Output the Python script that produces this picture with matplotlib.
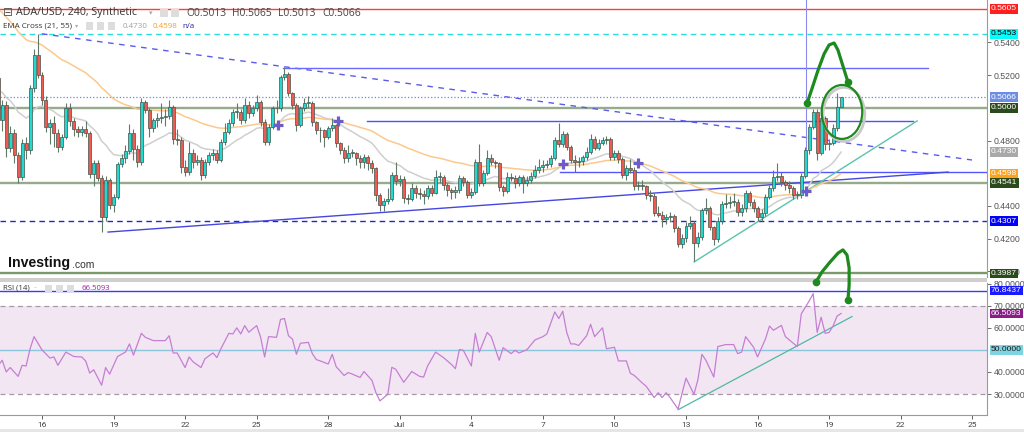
import numpy as np
import pandas as pd
import matplotlib
matplotlib.use("Agg")
import matplotlib.pyplot as plt
from matplotlib.patches import Ellipse, Rectangle
import matplotlib.transforms as mtransforms
from matplotlib import font_manager

# ---------------- data ----------------
first_open = 0.5183
closes = [
    .4926, .5017, .4754, .4846, .4711, .4577, .4785, .4742, .5121, .5323,
    .5201, .5048, .4883, .4907, .4846, .4760, .4822, .4999, .4919, .4871,
    .4852, .4871, .4846, .4595, .4662, .4571, .4332, .4558, .4405, .4454,
    .4656, .4693, .4736, .4846, .4748, .4669, .5036, .4987, .4877, .4926,
    .4938, .4944, .4950, .5005, .4809, .4803, .4638, .4607, .4724, .4669,
    .4681, .4589, .4669, .4711, .4724, .4681, .4791, .4852, .4907, .4975,
    .4975, .4926, .5017, .4968, .4999, .5036, .4913, .4791, .4883, .4999,
    .4999, .5189, .5207, .5091, .5017, .4895, .4999, .5030, .5030, .4913,
    .4864, .4864, .4822, .4877, .4895, .4785, .4742, .4693, .4724, .4724,
    .4693, .4669, .4699, .4662, .4632, .4467, .4405, .4430, .4442, .4589,
    .4552, .4565, .4448, .4442, .4509, .4479, .4473, .4461, .4509, .4479,
    .4577, .4577, .4528, .4497, .4485, .4497, .4571, .4546, .4467, .4485,
    .4669, .4540, .4601, .4693, .4669, .4662, .4516, .4491, .4577, .4571,
    .4540, .4577, .4540, .4558, .4583, .4620, .4638, .4650, .4656, .4693,
    .4803, .4779, .4840, .4760, .4681, .4669, .4675, .4699, .4730, .4809,
    .4754, .4785, .4803, .4809, .4699, .4724, .4687, .4589, .4632, .4620,
    .4522, .4528, .4522, .4467, .4461, .4356, .4344, .4320, .4332, .4338,
    .4265, .4167, .4203, .4277, .4295, .4173, .4210, .4375, .4387, .4271,
    .4197, .4307, .4412, .4418, .4424, .4424, .4363, .4387, .4479, .4424,
    .4387, .4332, .4356, .4454, .4509, .4577, .4583, .4546, .4528, .4509,
    .4467, .4467, .4583, .4742, .4883, .4975, .4724, .4938, .4779, .4785,
    .4877, .5005, .5066]
highs = [
    .524, .505, .504, .489, .487, .473, .481, .482, .514, .536,
    .545, .522, .507, .493, .495, .487, .484, .503, .503, .494,
    .489, .489, .492, .486, .468, .468, .459, .458, .457, .447,
    .467, .472, .477, .490, .487, .477, .506, .505, .500, .494,
    .497, .503, .499, .505, .502, .487, .482, .468, .479, .475,
    .471, .470, .469, .473, .475, .474, .481, .491, .493, .499,
    .503, .499, .506, .504, .502, .508, .505, .493, .490, .501,
    .505, .520, .525, .522, .510, .503, .501, .506, .507, .504,
    .492, .488, .487, .489, .494, .490, .479, .476, .477, .475,
    .473, .471, .472, .471, .468, .464, .448, .445, .451, .461,
    .467, .459, .458, .447, .454, .453, .451, .450, .453, .453,
    .462, .461, .459, .454, .451, .452, .459, .458, .456, .451,
    .469, .478, .462, .474, .472, .468, .467, .453, .461, .460,
    .459, .459, .459, .458, .461, .465, .469, .468, .468, .471,
    .482, .491, .486, .485, .477, .471, .470, .471, .476, .484,
    .483, .481, .482, .483, .482, .474, .474, .470, .465, .469,
    .464, .455, .456, .453, .450, .448, .440, .437, .435, .436,
    .435, .428, .423, .430, .434, .431, .424, .439, .445, .440,
    .428, .433, .443, .447, .446, .448, .444, .441, .450, .449,
    .444, .440, .438, .447, .453, .462, .466, .461, .456, .455,
    .452, .449, .460, .476, .490, .499, .499, .496, .495, .481,
    .490, .509, .5068]
lows = [
    .488, .486, .470, .473, .466, .454, .456, .469, .472, .510,
    .518, .502, .485, .478, .476, .473, .474, .481, .489, .483,
    .482, .483, .482, .457, .452, .455, .424, .431, .438, .436,
    .444, .464, .466, .472, .468, .464, .465, .497, .482, .485,
    .488, .491, .489, .493, .478, .477, .460, .458, .459, .463,
    .465, .456, .457, .465, .468, .466, .467, .477, .484, .489,
    .494, .490, .491, .494, .495, .498, .489, .477, .477, .487,
    .497, .498, .517, .507, .499, .486, .488, .498, .500, .489,
    .484, .479, .476, .481, .486, .476, .472, .466, .467, .470,
    .465, .463, .463, .462, .460, .443, .437, .437, .441, .443,
    .453, .452, .442, .441, .443, .445, .444, .441, .444, .446,
    .447, .454, .450, .446, .444, .445, .448, .452, .445, .445,
    .447, .452, .452, .459, .465, .463, .449, .446, .448, .455,
    .451, .452, .448, .452, .454, .457, .460, .461, .463, .464,
    .468, .476, .476, .474, .466, .461, .464, .465, .468, .472,
    .474, .474, .477, .478, .468, .468, .466, .457, .456, .460,
    .450, .450, .450, .444, .443, .434, .433, .427, .429, .430,
    .424, .415, .414, .418, .426, .406, .415, .419, .435, .425,
    .416, .418, .429, .439, .439, .440, .434, .434, .436, .440,
    .436, .431, .431, .434, .444, .449, .455, .452, .450, .448,
    .444, .444, .445, .457, .472, .487, .468, .471, .474, .474,
    .477, .486, .5005]
ema21_seed = 0.512
ema55_seed = 0.563
last_candle_day = 33.5          # days after Jun 16 (4h candles)
candles_per_day = 6

rsi_points = [
    (0, 43.0), (1, 45.3), (2, 40.0), (3, 42.0), (5, 38.0), (6, 43.0), (7, 42.7), (8, 50.5),
    (9, 56.0), (11, 50.0), (13, 46.3), (14, 46.8), (15, 43.0), (17, 49.0), (19, 47.0),
    (21, 46.8), (22, 44.9), (23, 39.5), (24, 41.0), (26, 34.0), (27, 42.0), (28, 39.0),
    (30, 47.0), (32, 49.0), (33, 52.7), (34, 47.6), (36, 57.5), (37, 55.7), (39, 54.2),
    (42, 54.2), (43, 56.4), (44, 48.6), (45, 48.6), (47, 42.0), (48, 46.8), (49, 44.6),
    (51, 42.0), (52, 46.0), (54, 48.6), (55, 46.5), (56, 50.5), (58, 57.5), (59, 57.2),
    (60, 60.0), (61, 57.2), (62, 61.0), (63, 58.0), (65, 61.0), (66, 55.7), (67, 46.8),
    (68, 56.0), (70, 55.7), (71, 63.8), (72, 64.2), (73, 56.4), (74, 54.9), (75, 48.0),
    (76, 53.0), (78, 53.4), (79, 48.3), (80, 45.6), (81, 45.0), (83, 43.6), (84, 48.0),
    (85, 42.4), (87, 38.4), (88, 39.7), (89, 39.1), (91, 37.5), (92, 40.2), (94, 36.2),
    (95, 30.6), (96, 26.9), (98, 29.9), (99, 42.1), (100, 41.2), (102, 35.3), (104, 40.2),
    (106, 38.0), (107, 37.7), (108, 42.7), (110, 49.0), (112, 46.5), (114, 43.4),
    (115, 41.5), (116, 50.2), (117, 49.8), (119, 42.7), (120, 57.5), (121, 49.0),
    (123, 57.9), (124, 56.0), (126, 45.3), (127, 51.0), (129, 48.3), (130, 49.8),
    (131, 48.6), (133, 50.1), (135, 54.5), (137, 56.0), (138, 57.2), (140, 67.2),
    (141, 64.2), (142, 67.5), (143, 57.9), (144, 52.7), (145, 52.7), (146, 52.0),
    (148, 56.4), (149, 61.6), (150, 56.0), (152, 60.0), (153, 50.5), (155, 51.2),
    (156, 45.0), (158, 45.0), (159, 39.4), (160, 38.4), (162, 35.0), (163, 33.5),
    (165, 28.4), (166, 30.6), (167, 28.4), (168, 30.6), (169, 28.4), (171, 23.2),
    (172, 30.3), (173, 37.2), (175, 29.9), (176, 36.5), (177, 48.0), (178, 45.3),
    (180, 37.7), (181, 51.5), (183, 52.4), (185, 52.4), (186, 48.3), (187, 49.0),
    (188, 56.0), (190, 51.2), (191, 46.8), (193, 55.0), (194, 60.8), (195, 58.9),
    (197, 61.1), (198, 56.0), (199, 54.5), (201, 51.5), (202, 66.3), (204, 72.2),
    (205, 75.5), (206, 57.9), (207, 64.8), (208, 57.5), (209, 57.9), (210, 60.8),
    (211, 65.3), (212, 66.5)]

tick_days = [0, 3, 6, 9, 12, 15, 18, 21, 24, 27, 30, 33, 36, 39]
tick_labels = ['16', '19', '22', '25', '28', 'Jul', '4', '7', '10', '13', '16', '19', '22', '25']
# tick levels whose labels stay visible (0.5000, 0.4600 and 50 sit under value boxes)
price_ticks = [0.40, 0.42, 0.44, 0.48, 0.52, 0.54]
rsi_ticks = [30, 40, 60, 70, 80]

# horizontal levels: (price, color, style, lw)
h_levels = [
    (0.5605, '#ff3b3b', '-', 1.0),
    (0.5453, '#2bdede', (0, (4, 3)), 1.0),
    (0.5066, '#6f86e6', ':', 0.9),
    (0.5000, '#95ab8c', '-', 1.7),
    (0.4541, '#95ab8c', '-', 1.7),
    (0.4307, '#2424cc', (0, (4, 3)), 1.0),
    (0.3987, '#7a9a6a', '-', 1.7),
]
# trend / segment drawings: ((day0, p0), (day1, p1), color, style)
segments = [
    ((0.0, 0.5453), (38.99, 0.4681), '#5a5aee', (0, (4, 4))),
    ((10.1, 0.5244), (37.15, 0.5244), '#6a6aff', '-'),
    ((13.63, 0.4919), (36.52, 0.4919), '#4f4fff', '-'),
    ((21.72, 0.4607), (39.62, 0.4607), '#5555ff', '-'),
    ((2.77, 0.4240), (37.99, 0.4607), '#4646e0', '-'),
    ((27.34, 0.4057), (36.69, 0.4920), '#58c4aa', '-'),
]
cross_marks = [(9.90, 0.4895), (12.41, 0.4919), (21.85, 0.4656), (24.99, 0.4662), (32.03, 0.4491)]

# right-axis value labels: (value, bg, fg)
price_labels = [
    (0.5605, '#ff1f1f', 'white'), (0.5453, '#00ffff', 'black'),
    (0.5066, '#6a8de6', 'white'), (0.5000, '#2c4b1c', 'white'),
    (0.4730, '#a9a9a9', 'white'), (0.4598, '#ffa21a', 'white'),
    (0.4541, '#2c4b1c', 'white'), (0.4307, '#0000ff', 'white'),
    (0.3987, '#2c4b1c', 'white')]
rsi_labels = [(76.8437, '#1a1aff', 'white'), (66.5093, '#8b1a8b', 'white'),
              (50.0000, '#7fd4e4', '#1a1a1a')]

# ---------------- helpers ----------------
avail = {f.name for f in font_manager.fontManager.ttflist}
def pick(*names):
    for n in names:
        if n in avail:
            return n
    return 'DejaVu Sans'
NARROW = pick('Liberation Sans Narrow', 'Roboto', 'DejaVu Sans')
UI = pick('Open Sans', 'Noto Sans', 'DejaVu Sans')
ARIAL = pick('Liberation Sans', 'DejaVu Sans')

W, H = 1024, 432
def fy(py):
    return 1 - py / H

fig = plt.figure(figsize=(W / 100, H / 100), dpi=100)
fig.patch.set_facecolor('white')

ax = fig.add_axes([0, fy(277), 987 / W, 277 / H])
axr = fig.add_axes([0, fy(415), 987 / W, (415 - 283) / H], sharex=ax)

n = len(closes)
t = np.array([last_candle_day - (n - 1 - i) / candles_per_day for i in range(n)])
c = np.array(closes)
o = np.array([first_open] + closes[:-1])
hi = np.array(highs)
lo = np.array(lows)

xmin, xmax = -1.761, 39.62
ax.set_xlim(xmin, xmax)
ax.set_ylim(0.3965, 0.5660)

# levels and drawings
for p, col, ls, lw in h_levels:
    ax.axhline(p, color=col, ls=ls, lw=lw, zorder=1)
for (x0, y0), (x1, y1), col, ls in segments:
    ax.plot([x0, x1], [y0, y1], color=col, ls=ls, lw=1.0, zorder=1.5)
ax.plot([32.03, 32.03], [0.4700, 0.566], color='#8c8cf0', lw=0.8, zorder=1.5)

# EMAs
ema21 = pd.Series([ema21_seed] + closes).ewm(span=21, adjust=False).mean().iloc[1:].values
ema55 = pd.Series([ema55_seed] + closes).ewm(span=55, adjust=False).mean().iloc[1:].values
ax.plot(t, ema21, color='#cfcfcf', lw=1.1, zorder=2)
ax.plot(t, ema55, color='#fcc98c', lw=1.1, zorder=2)

# candles
up = c >= o
body_col = np.where(up, '#22d8cf', '#ef5b52')
ax.vlines(t, lo, hi, color='#62786a', lw=0.8, zorder=3)
ax.bar(t, np.maximum(np.abs(c - o), 0.0003), bottom=np.minimum(o, c), width=0.125,
       color=body_col, edgecolor='#3f5548', linewidth=0.5, zorder=4)

cx, cy = zip(*cross_marks)
ax.plot(cx, cy, ls='none', marker='+', ms=7, mew=2.3, color='#6b5cc8', zorder=5)

# green hand drawn annotations
gpath_x = [32.08, 32.29, 32.54, 32.79, 33.00, 33.21, 33.37, 33.58, 33.79]
gpath_y = [0.5030, 0.5121, 0.5232, 0.5330, 0.5385, 0.5397, 0.5354, 0.5256, 0.5158]
ax.plot(gpath_x, gpath_y, color='#1e8a1e', lw=2.3, zorder=6, solid_capstyle='round')
ax.plot([gpath_x[0], gpath_x[-1]], [gpath_y[0], gpath_y[-1]], 'o', color='#1e8a1e', ms=4.5, zorder=6)
ax.add_patch(Ellipse((33.62, 0.4960), 1.75, 0.033, angle=0, fill=False, ec='#c8c8c8', lw=2.0, zorder=5.5))
ax.add_patch(Ellipse((33.54, 0.4975), 1.7, 0.033, angle=0, fill=False, ec='#1e8a1e', lw=1.6, zorder=6))

# price axis styling
ax.yaxis.tick_right()
ax.set_yticks(price_ticks)
ax.set_yticklabels(['%.4f' % v for v in price_ticks])
ax.tick_params(axis='y', labelsize=6.3, colors='#555555', length=3, width=0.6, pad=2)
for lab in ax.get_yticklabels():
    lab.set_fontfamily(ARIAL)
ax.tick_params(axis='x', bottom=False, labelbottom=False)
for s in ['top', 'left', 'bottom']:
    ax.spines[s].set_visible(False)
ax.spines['right'].set_color('#9a9a9a')
ax.spines['right'].set_linewidth(0.8)

def right_label(axis, v, text, bg, fg):
    tr = mtransforms.blended_transform_factory(axis.transAxes, axis.transData)
    axis.text(1.004, v, text, transform=tr, ha='left', va='center', fontsize=6.1,
              color=fg, family=ARIAL,
              bbox=dict(boxstyle='square,pad=0.15', fc=bg, ec='none'),
              zorder=20, clip_on=False)

for v, bg, fg in price_labels:
    right_label(ax, v, '%.4f' % v, bg, fg)

# ---------------- RSI panel ----------------
axr.set_ylim(20.5, 80.3)
axr.axhspan(30, 70, color='#f3e6f3', zorder=0, lw=0)
axr.axhline(70, color='#a898a8', ls=(0, (4, 3)), lw=0.9, zorder=1)
axr.axhline(30, color='#a898a8', ls=(0, (4, 3)), lw=0.9, zorder=1)
axr.axhline(50, color='#8cc6dc', lw=1.0, zorder=1)
axr.axhline(76.8437, color='#3a3aff', lw=1.0, zorder=1)
ri, rv = zip(*rsi_points)
axr.plot(t[list(ri)], rv, color='#c47fd3', lw=0.9, zorder=3)
axr.plot([26.67, 33.96], [22.9, 65.1], color='#4fb8a8', lw=0.9, zorder=2)

gx2 = [32.45, 32.70, 33.04, 33.38, 33.58, 33.75, 33.84, 33.84, 33.79]
gy2 = [80.75, 85.3, 89.8, 93.9, 95.3, 93.0, 87.1, 79.4, 72.6]
axr.plot(gx2, gy2, color='#1e8a1e', lw=2.3, zorder=6, clip_on=False, solid_capstyle='round')
axr.plot([gx2[0], gx2[-1]], [gy2[0], gy2[-1]], 'o', color='#1e8a1e', ms=4.5, zorder=6, clip_on=False)

axr.yaxis.tick_right()
axr.set_yticks(rsi_ticks)
axr.set_yticklabels(['%.4f' % v for v in rsi_ticks])
axr.tick_params(axis='y', labelsize=6.3, colors='#555555', length=3, width=0.6, pad=2)
for lab in axr.get_yticklabels():
    lab.set_fontfamily(ARIAL)
axr.set_xticks(tick_days)
axr.set_xticklabels(tick_labels)
axr.tick_params(axis='x', labelsize=6.0, colors='#444444', length=3, width=0.6, pad=2)
for lab in axr.get_xticklabels():
    lab.set_fontfamily(NARROW)
for s in ['top', 'left']:
    axr.spines[s].set_visible(False)
for s in ['right', 'bottom']:
    axr.spines[s].set_color('#9a9a9a')
    axr.spines[s].set_linewidth(0.8)
for v, bg, fg in rsi_labels:
    right_label(axr, v, '%.4f' % v, bg, fg)

# panel separator and bottom band
fig.add_artist(Rectangle((0, fy(282)), 987 / W, 4 / H, transform=fig.transFigure,
                         color='#cfcfcf', lw=0, zorder=0))
fig.add_artist(Rectangle((0, 0), 1, 3 / H, transform=fig.transFigure, color='#e6e6e6', lw=0))

# ---------------- header texts ----------------
def ftext(px, py, s, **kw):
    fig.text(px / W, fy(py), s, va='center', ha='left', **kw)

def icon(px, py, size=7):
    fig.add_artist(Rectangle((px / W, fy(py + size / 2)), size / W, size / H,
                             transform=fig.transFigure, color='#dddddd', lw=0, zorder=30))

ftext(3, 13, '\u229f', fontsize=8.5, color='#555555', family='DejaVu Sans', zorder=31)
ftext(16, 13, 'ADA/USD, 240, Synthetic', fontsize=7.7, color='#333333', family=UI, zorder=31)
ftext(149, 13, '\u25be', fontsize=5, color='#aaaaaa', family='DejaVu Sans', zorder=31)
icon(160, 13, 8)
icon(171, 13, 8)
for px, s in [(186, 'O0.5013'), (232, 'H0.5065'), (278, 'L0.5013'), (322, 'C0.5066')]:
    ftext(px, 13, s, fontsize=7.4, color='#444444', family=UI, zorder=31)

ftext(3, 26, 'EMA Cross (21, 55)', fontsize=5.8, color='#333333', family=UI, zorder=31)
ftext(75, 26, '\u25be', fontsize=4.5, color='#aaaaaa', family='DejaVu Sans', zorder=31)
icon(86, 26, 7)
icon(97, 26, 7)
icon(108, 26, 7)
ftext(123, 26, '0.4730', fontsize=5.8, color='#a0a0a0', family=UI, zorder=31)
ftext(153, 26, '0.4598', fontsize=5.8, color='#f5a020', family=UI, zorder=31)
ftext(182, 26, 'n/a', fontsize=5.8, color='#2222a0', family=UI, zorder=31)

ftext(3, 288, 'RSI (14)', fontsize=5.6, color='#333333', family=UI, zorder=31)
ftext(34, 288, '\u2013', fontsize=4.5, color='#aaaaaa', family='DejaVu Sans', zorder=31)
icon(45, 288, 7)
icon(56, 288, 7)
icon(67, 288, 7)
ftext(82, 288, '66.5093', fontsize=5.6, color='#a020a0', family=UI, zorder=31)

ftext(8, 263, 'Investing', fontsize=10.2, color='#111111', family=ARIAL, fontweight='bold', zorder=31)
ftext(72, 265, '.com', fontsize=7.5, color='#333333', family=ARIAL, zorder=31)

fig.savefig('out.png', dpi=100, facecolor='white')
